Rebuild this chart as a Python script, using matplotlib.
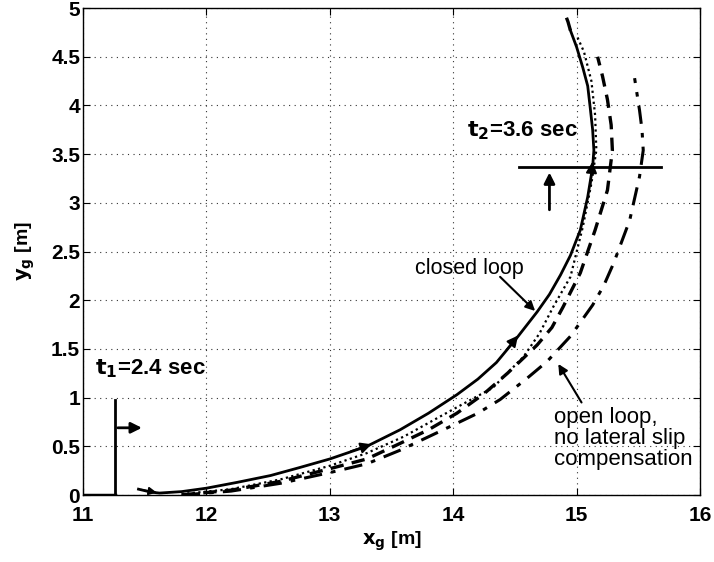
import matplotlib.pyplot as plt

plt.rcParams['font.family'] = ['Liberation Sans', 'DejaVu Sans']

# Trajektorie (x_g, y_g) w metrach
solid_x = [11.45, 11.55, 11.62, 11.8, 12.0, 12.25, 12.52, 12.75, 13.0, 13.3, 13.57, 13.8, 14.03,
           14.2, 14.35, 14.52, 14.68, 14.78, 14.87, 14.95, 15.03, 15.09, 15.13, 15.14, 15.13,
           15.11, 15.09, 15.05, 15.0, 14.95]
solid_y = [0.06, 0.03, 0.02, 0.035, 0.07, 0.13, 0.2, 0.28, 0.37, 0.5, 0.67, 0.84, 1.03,
           1.19, 1.36, 1.62, 1.88, 2.06, 2.26, 2.46, 2.72, 3.06, 3.37, 3.54, 3.75,
           3.98, 4.2, 4.39, 4.6, 4.77]

solid_end_x = [14.95, 14.93, 14.9]
solid_end_y = [4.77, 4.86, 4.96]

dotted_x = [11.8, 12.2, 12.6, 13.0, 13.3, 13.6, 14.0, 14.32, 14.57, 14.7, 14.81, 14.95, 15.05,
            15.12, 15.16, 15.15, 15.12, 15.06, 15.0]
dotted_y = [0.01, 0.06, 0.16, 0.30, 0.43, 0.6, 0.88, 1.1, 1.42, 1.66, 1.93, 2.24, 2.75,
            3.2, 3.54, 3.9, 4.25, 4.55, 4.72]

dashed_x = [11.8, 12.2, 12.6, 13.0, 13.3, 13.57, 13.8, 14.03, 14.25, 14.44, 14.68, 14.8, 14.89,
            15.03, 15.15, 15.25, 15.29, 15.28, 15.25, 15.21, 15.17]
dashed_y = [0.0, 0.05, 0.14, 0.27, 0.37, 0.53, 0.67, 0.84, 1.04, 1.25, 1.54, 1.72, 1.93,
            2.28, 2.72, 3.13, 3.54, 3.8, 4.06, 4.3, 4.5]

dashdot_x = [11.8, 12.2, 12.6, 13.0, 13.3, 13.57, 13.97, 14.2, 14.38, 14.6, 14.76, 14.95, 15.13,
             15.22, 15.3, 15.43, 15.51, 15.54, 15.53, 15.51, 15.47]
dashdot_y = [0.0, 0.04, 0.12, 0.23, 0.32, 0.46, 0.70, 0.84, 0.98, 1.2, 1.37, 1.63, 1.95,
             2.15, 2.38, 2.82, 3.27, 3.54, 3.75, 3.95, 4.28]

fig = plt.figure(figsize=(7.14, 5.62), dpi=100)
ax = fig.add_axes([0.1162, 0.1192, 0.8642, 0.8665])

ax.plot(dashdot_x, dashdot_y, color='black', lw=2.2, linestyle=(0, (6, 3, 1.5, 3)))
ax.plot(dashed_x, dashed_y, color='black', lw=2.4, linestyle=(0, (4, 2.5)))
ax.plot(dotted_x, dotted_y, color='black', lw=1.6, linestyle=(0, (1, 1.5)))
ax.plot(solid_x, solid_y, color='black', lw=2.0)
ax.plot(solid_end_x, solid_end_y, color='black', lw=2.4, linestyle=(0, (4, 2.5)))

# Groty wskazujace kierunek ruchu
arrow_kw = dict(arrowstyle='-|>', color='black', lw=1.5, mutation_scale=16)
ax.annotate('', xy=(13.36, 0.53), xytext=(13.15, 0.44), arrowprops=arrow_kw)
ax.annotate('', xy=(14.54, 1.66), xytext=(14.42, 1.47), arrowprops=arrow_kw)
ax.annotate('', xy=(15.13, 3.45), xytext=(15.11, 3.15), arrowprops=arrow_kw)
ax.annotate('', xy=(11.62, 0.02), xytext=(11.45, 0.06),
            arrowprops=dict(arrowstyle='-|>', color='black', lw=1.2, mutation_scale=12))

# Znacznik t1
ax.plot([11.26, 11.26], [0, 0.98], color='black', lw=2)
ax.plot([11.0, 11.26], [0, 0], color='black', lw=2.5)
ax.annotate('', xy=(11.5, 0.69), xytext=(11.26, 0.69),
            arrowprops=dict(arrowstyle='-|>', color='black', lw=2, mutation_scale=16))
ax.text(11.1, 1.3, r'$\mathbf{t_1}$=2.4 sec', fontsize=16, fontweight='bold', va='center')

# Znacznik t2
ax.plot([14.53, 15.68], [3.37, 3.37], color='black', lw=2)
ax.annotate('', xy=(14.78, 3.34), xytext=(14.78, 2.9),
            arrowprops=dict(arrowstyle='-|>', color='black', lw=2, mutation_scale=16))
ax.text(14.11, 3.74, r'$\mathbf{t_2}$=3.6 sec', fontsize=16, fontweight='bold', va='center')

# Opisy krzywych
ax.text(13.69, 2.33, 'closed loop', fontsize=15.5, va='center')
ax.annotate('', xy=(14.68, 1.87), xytext=(14.38, 2.24),
            arrowprops=dict(arrowstyle='-|>', color='black', lw=1.5, mutation_scale=14, shrinkA=0))
ax.annotate('', xy=(14.84, 1.37), xytext=(15.04, 0.95),
            arrowprops=dict(arrowstyle='-|>', color='black', lw=1.5, mutation_scale=14, shrinkA=0))
ax.text(14.82, 0.9, 'open loop,\nno lateral slip\ncompensation', fontsize=16,
        va='top', linespacing=1.0)

ax.set_xlim(11, 16)
ax.set_ylim(0, 5)
ax.set_xticks([11, 12, 13, 14, 15, 16])
ax.set_yticks([0, 0.5, 1, 1.5, 2, 2.5, 3, 3.5, 4, 4.5, 5])
ax.set_yticklabels(['0', '0.5', '1', '1.5', '2', '2.5', '3', '3.5', '4', '4.5', '5'])
ax.tick_params(direction='in', top=True, right=True, labelsize=15, length=5)
ax.tick_params(axis='x', pad=8)
ax.tick_params(axis='y', pad=2)
for lbl in ax.get_xticklabels() + ax.get_yticklabels():
    lbl.set_fontweight('bold')
ax.grid(True, color='#333333', linestyle=(0, (1, 4)), lw=0.8)
for s in ax.spines.values():
    s.set_linewidth(1.0)

ax.set_xlabel(r'$\mathbf{x_g}$ [m]', fontsize=14, fontweight='bold', labelpad=3)
ax.set_ylabel(r'$\mathbf{y_g}$ [m]', fontsize=14, fontweight='bold', labelpad=10)

plt.savefig('out.png', dpi=100)
